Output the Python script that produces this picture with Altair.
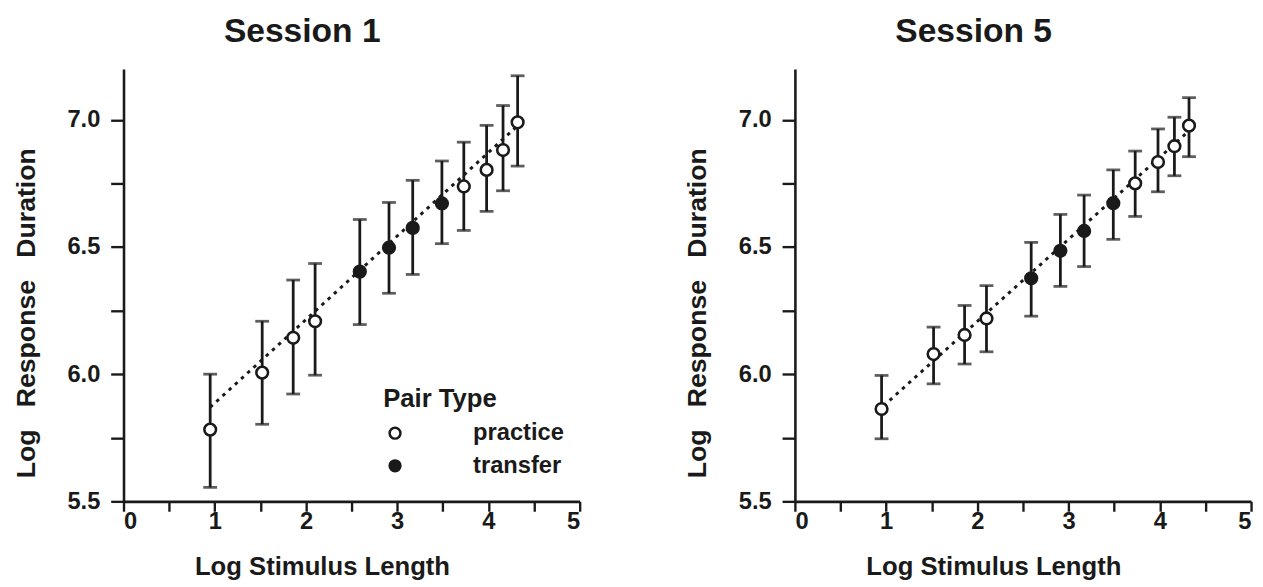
import altair as alt
import pandas as pd

# ---- data ----
log_len = [0.95, 1.52, 1.86, 2.10, 2.59, 2.91, 3.17, 3.49, 3.73, 3.98, 4.16, 4.32]
pair_type = ["practice"] * 4 + ["transfer"] * 4 + ["practice"] * 4

s1_mean = [5.782, 6.006, 6.143, 6.208, 6.403, 6.497, 6.575, 6.671, 6.738, 6.803, 6.881, 6.990]
s1_hi = [6.000, 6.208, 6.370, 6.435, 6.608, 6.675, 6.762, 6.838, 6.912, 6.978, 7.056, 7.173]
s1_lo = [5.555, 5.803, 5.922, 5.996, 6.195, 6.318, 6.392, 6.513, 6.565, 6.640, 6.721, 6.818]

s5_mean = [5.863, 6.079, 6.154, 6.219, 6.377, 6.485, 6.563, 6.672, 6.750, 6.834, 6.896, 6.977]
s5_hi = [5.995, 6.185, 6.270, 6.348, 6.518, 6.628, 6.704, 6.803, 6.877, 6.964, 7.010, 7.087]
s5_lo = [5.746, 5.962, 6.040, 6.088, 6.228, 6.345, 6.423, 6.530, 6.620, 6.717, 6.780, 6.855]

fit1_x = [0.95, 4.30]
fit1_y = [5.87, 6.97]
fit5_x = [0.97, 4.30]
fit5_y = [5.875, 6.95]

FONT = "Liberation Sans"
INK = "#1a1a1a"
NB = "\u00a0"

x_ticks = [0, 0.5, 1, 1.5, 2, 2.5, 3, 3.5, 4, 4.5, 5]
y_ticks = [5.5, 5.75, 6.0, 6.25, 6.5, 6.75, 7.0]

x_scale = alt.Scale(domain=[0, 5], nice=False, zero=False)
y_scale = alt.Scale(domain=[5.5, 7.2], nice=False, zero=False)

x_axis = alt.Axis(
    title="Log Stimulus Length", values=x_ticks,
    labelExpr="datum.value % 1 === 0 ? format(datum.value, 'd') : ''",
    tickSize=10, labelPadding=-1, titlePadding=20, titleX=201, titleFontSize=26,
)
y_axis = alt.Axis(
    title="Log" + NB * 3 + "Response" + NB * 3 + "Duration", values=y_ticks,
    labelExpr="datum.value % 0.5 === 0 ? format(datum.value, '.1f') : ''",
    tickSize=13, labelPadding=11, titlePadding=27, titleY=247, titleFontSize=27,
)


def panel(mean, hi, lo, fx, fy, title, show_legend):
    df = pd.DataFrame({"x": log_len, "y": mean, "hi": hi, "lo": lo, "type": pair_type})
    fit = pd.DataFrame({"x": fx, "y": fy})
    base = alt.Chart(df)
    line = alt.Chart(fit).mark_line(color=INK, strokeWidth=3, strokeDash=[3.5, 5]).encode(
        x=alt.X("x:Q", scale=x_scale, axis=x_axis),
        y=alt.Y("y:Q", scale=y_scale, axis=y_axis),
    )
    bars = base.mark_rule(color=INK, strokeWidth=2.8).encode(
        x=alt.X("x:Q", scale=x_scale), y=alt.Y("lo:Q", scale=y_scale), y2="hi:Q"
    )
    cap_hi = base.mark_tick(orient="horizontal", color=INK, size=14, thickness=2.8).encode(
        x=alt.X("x:Q", scale=x_scale), y=alt.Y("hi:Q", scale=y_scale)
    )
    cap_lo = base.mark_tick(orient="horizontal", color=INK, size=14, thickness=2.8).encode(
        x=alt.X("x:Q", scale=x_scale), y=alt.Y("lo:Q", scale=y_scale)
    )
    if show_legend:
        legend = alt.Legend(
            title="Pair Type", orient="none", legendX=263, legendY=321,
            symbolType="circle", symbolSize=120, symbolStrokeColor=INK,
            symbolStrokeWidth=2.5, labelOffset=67, rowPadding=9, titlePadding=10,
            titleFontSize=26, labelFontSize=24, titleFont=FONT, labelFont=FONT,
            titleFontWeight="bold", labelFontWeight="bold",
            titleColor=INK, labelColor=INK,
        )
    else:
        legend = None
    pts = base.mark_point(filled=True, stroke=INK, strokeWidth=2.6, size=140, opacity=1).encode(
        x=alt.X("x:Q", scale=x_scale),
        y=alt.Y("y:Q", scale=y_scale),
        fill=alt.Fill("type:N", scale=alt.Scale(domain=["practice", "transfer"], range=["white", INK]),
                      legend=legend),
    )
    return alt.layer(line, bars, cap_hi, cap_lo, pts).properties(
        width=462, height=438,
        title=alt.Title(title, fontSize=34, font=FONT, fontWeight="bold", color=INK,
                        anchor="middle", dx=-50, offset=20),
    )


left = panel(s1_mean, s1_hi, s1_lo, fit1_x, fit1_y, "Session 1", True)
right = panel(s5_mean, s5_hi, s5_lo, fit5_x, fit5_y, "Session 5", False)

chart = alt.hconcat(left, right, spacing=103).resolve_legend(fill="independent").properties(
    padding={"left": 4, "top": 4, "right": 2, "bottom": 0}
).configure_view(stroke=None).configure_axis(
    grid=False, domainColor=INK, domainWidth=2.6, tickColor=INK, tickWidth=2.4,
    labelFont=FONT, labelFontSize=24, labelFontWeight="bold", labelColor=INK,
    titleFont=FONT, titleFontWeight="bold", titleColor=INK,
).configure_axisY(labelAlign="right")

chart.save("out.html", embed_options={"renderer": "svg", "actions": False})
